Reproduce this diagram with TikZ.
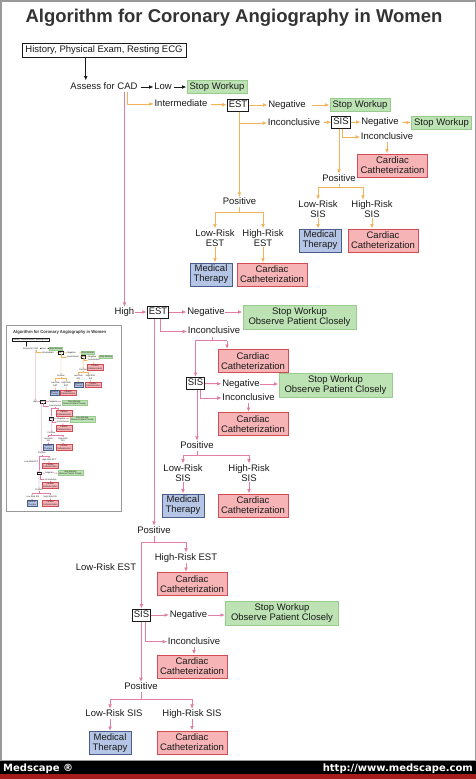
\documentclass[tikz,border=0pt]{standalone}
\usepackage{fontspec}
\setmainfont{Liberation Sans}
\newfontfamily\barfont{DejaVu Sans}
\usetikzlibrary{arrows.meta}
\definecolor{Ink}{HTML}{1A1A1A}
\definecolor{TitleInk}{HTML}{333333}
\definecolor{OrangeLn}{HTML}{F2B45A}
\definecolor{PinkLn}{HTML}{E27EA5}
\definecolor{GoFill}{HTML}{BDE3B4}
\definecolor{GoLine}{HTML}{9ACB8E}
\definecolor{CathFill}{HTML}{F7B4B7}
\definecolor{CathLine}{HTML}{D24B55}
\definecolor{MedFill}{HTML}{B5C5E5}
\definecolor{MedLine}{HTML}{4A5B8C}
\definecolor{Frame}{HTML}{999999}
\definecolor{BarRed}{HTML}{A51C1C}
\newcommand\lblfont{\fontsize{9.5}{10}\selectfont}
\newcommand\titlefont{\fontsize{18.5}{22}\selectfont\bfseries}
\newcommand\lw{1pt}
\tikzset{
 lbl/.style={font=\lblfont, text=Ink, inner sep=0.5pt, text height=6.8pt, text depth=2pt},
 lbl2/.style={font=\lblfont, text=Ink, inner sep=0.5pt, align=center},
 box/.style={font=\lblfont, text=Ink, align=center, line width=\lw, inner xsep=1.5pt, inner ysep=1pt},
 testbox/.style={box, draw=Ink, minimum height=12pt, text height=6.8pt, text depth=2pt},
 stopbox/.style={box, draw=GoLine, fill=GoFill, minimum width=60pt, minimum height=13pt, text height=6.8pt, text depth=2pt},
 watchbox/.style={box, draw=GoLine, fill=GoFill, minimum width=113pt, minimum height=24pt},
 cathbox/.style={box, draw=CathLine, fill=CathFill, minimum width=70pt, minimum height=23pt},
 medbox/.style={box, draw=MedLine, fill=MedFill, minimum width=42pt, minimum height=23pt},
 karrow/.style={-{Latex[length=0pt 4.5,width=0pt 3.8]}, line width=\lw, draw=Ink},
 oarrow/.style={karrow, draw=OrangeLn},
 parrow/.style={karrow, draw=PinkLn},
 oline/.style={line width=\lw, draw=OrangeLn},
 pline/.style={line width=\lw, draw=PinkLn}
}
% the whole chart, used full size and as the small preview
\newcommand\chart{%
\node[font=\titlefont, text=TitleInk, anchor=base] (title) at (234,23) {Algorithm for Coronary Angiography in Women};
\node[testbox, minimum width=164pt, minimum height=14pt] (hist) at (104,50) {History, Physical Exam, Resting ECG};
\foreach \n/\x/\y/\t in {est1/238/105/EST, sis1/341/122/SIS, est2/158/312/EST, sis2/195.5/383.5/SIS, sis3/141.5/615/SIS}
  \node[testbox] (\n) at (\x,\y) {\t};
\foreach \n/\x/\y/\t in {assess/104/87/Assess for CAD, low/163/87/Low, inter/181/104/Intermediate,
  neg1/287/105/Negative, inc1/294/123/Inconclusive, neg2/380/122/Negative, inc2/387/137/Inconclusive,
  pos1/339/179/Positive, posE/239.5/202/Positive, high/124.5/312/High, neg3/206/312/Negative,
  inc3/214/331.5/Inconclusive, neg4/241/384/Negative, inc4/248.5/398/Inconclusive, pos2/197/446/Positive,
  pos3/154/531/Positive, hre2/186/557.7/High-Risk EST, lre2/106/568/Low-Risk EST, neg5/188.5/615/Negative,
  inc5/194/641.7/Inconclusive, pos4/141/687.3/Positive, lrs3/114/714/Low-Risk SIS, hrs3/192/714/High-Risk SIS}
  \node[lbl] (\n) at (\x,\y) {\t};
\foreach \n/\x/\y/\t/\u in {lrs1/318/209/Low-Risk/SIS, hrs1/372/209/High-Risk/SIS, lre1/215/237.7/Low-Risk/EST,
  hre1/263/237.7/High-Risk/EST, lrs2/183/472.7/Low-Risk/SIS, hrs2/249/472.7/High-Risk/SIS}
  \node[lbl2] (\n) at (\x,\y) {\t\\\u};
\foreach \n/\x/\y in {stop1/217/87, stop2/360/105, stop3/441.5/123}
  \node[stopbox] (\n) at (\x,\y) {Stop Workup};
\foreach \n/\x/\y in {stop4/299.5/317, stop5/335.5/385.5, stop6/282/613.5}
  \node[watchbox] (\n) at (\x,\y) {Stop Workup\\Observe Patient Closely};
\foreach \n/\x/\y in {cath1/392.5/165.5, cath2/383/240.5, cath3/272/274.5, cath4/253/361, cath5/253/424,
  cath6/253/505.5, cath7/192/584, cath8/192/666.5, cath9/192/742.5}
  \node[cathbox] (\n) at (\x,\y) {Cardiac\\Catheterization};
\foreach \n/\x/\y in {med1/320/240.5, med2/211/274.5, med3/183/505.5, med4/110/743}
  \node[medbox] (\n) at (\x,\y) {Medical\\Therapy};
% entry
\draw[karrow] (hist.south -| assess.west) ++(16,0) -- ++(0,23);
\draw[karrow, shorten <=3pt] (assess) -- (low);
\draw[karrow, shorten <=2pt] (low) -- (stop1);
% intermediate
\draw[oarrow] (assess.south) ++(23,0) |- (inter);
\draw[oarrow, shorten <=3pt] (inter) -- (est1);
\draw[oarrow] (est1) -- (neg1);
\draw[oarrow, shorten <=6pt] (neg1) -- (stop2);
\draw[oarrow] (est1.south -| posE) |- (inc1);
\draw[oarrow] (est1.south -| posE) -- (posE);
\draw[oarrow, shorten <=3pt] (inc1) -- (sis1);
\draw[oarrow] (sis1) -- (neg2);
\draw[oarrow, shorten <=3pt] (neg2) -- (stop3);
\draw[oarrow] (sis1.south) ++(1.5,0) |- (inc2);
\draw[oarrow] (inc2) -- (inc2 |- cath1.north);
\draw[oarrow] (sis1.south -| pos1) -- (pos1);
\draw[oline] (pos1.south) -- ++(0,3) coordinate (j1) -- ++(24,0) coordinate (j1r);
\draw[oarrow] (j1) -| (lrs1);
\draw[oarrow] (j1r) -- (j1r |- hrs1.north);
\draw[oarrow] (lrs1) -- (lrs1 |- med1.north);
\draw[oarrow] (hrs1) -- (hrs1 |- cath2.north);
\draw[oline] (posE.south) -- ++(0,5) coordinate (j2);
\draw[oarrow] (j2) -| (lre1);
\draw[oarrow] (j2) -| (hre1);
\draw[oarrow] (lre1) -- (lre1 |- med2.north);
\draw[oarrow] (hre1) -- (hre1 |- cath3.north);
% high
\draw[parrow] (assess.south -| high) -- (high);
\draw[parrow] (high) -- (est2);
\draw[parrow] (est2) -- (neg3);
\draw[parrow] (neg3) -- (neg3 -| stop4.west);
\draw[parrow] (est2.south) ++(2,0) |- (inc3);
\draw[parrow] (est2.south -| pos3) -- (pos3);
\draw[pline] (inc3.south) ++(-2,0) -- ++(0,4) coordinate (j3) -- ++(15,0) coordinate (j3r);
\draw[parrow] (j3) -| (sis2);
\draw[parrow] (j3r) -- (j3r |- cath4.north);
\draw[parrow] (sis2) -- (neg4);
\draw[parrow] (neg4) -- (neg4 -| stop5.west);
\draw[parrow] (sis2.south) ++(5,0) |- (inc4);
\draw[parrow] (inc4) -- (inc4 |- cath5.north);
\draw[parrow] (sis2.south -| pos2) -- (pos2);
\draw[pline] (pos2.south) -- ++(0,4) coordinate (j4);
\draw[parrow] (j4) -| (lrs2);
\draw[parrow] (j4) -| (hrs2);
\draw[parrow] (lrs2) -- (lrs2 |- med3.north);
\draw[parrow] (hrs2) -- (hrs2 |- cath6.north);
\draw[pline] (pos3.south) -- ++(0,6) coordinate (j5);
\draw[parrow] (j5) -| (hre2);
\draw[parrow] (j5) -| (sis3);
\draw[parrow] (hre2) -- (hre2 |- cath7.north);
\draw[parrow] (sis3) -- (neg5);
\draw[parrow] (neg5) -- (neg5 -| stop6.west);
\draw[parrow] (sis3.south) ++(4,0) |- (inc5);
\draw[parrow] (inc5) -- (inc5 |- cath8.north);
\draw[parrow] (sis3.south -| pos4) -- (pos4);
\draw[pline] (pos4.south) -- ++(0,7) coordinate (j6);
\draw[parrow] (j6) -| (lrs3.north -| med4);
\draw[parrow] (j6) -| (hrs3);
\draw[parrow] (lrs3.south -| med4) -- (med4);
\draw[parrow] (hrs3) -- (hrs3 |- cath9.north);
}

\begin{document}
\begin{tikzpicture}[x=1pt,y=-1pt]
\useasboundingbox (0,0) rectangle (476,779);
\fill[white] (0,0) rectangle (476,779);
\chart
% preview
\begin{scope}[shift={(7.5,328)}, xscale=0.223, yscale=0.236, transform shape, name prefix=th-]
\renewcommand\lw{0.3pt}
\chart
\end{scope}
\draw[Frame, line width=1pt] (6.5,325) rectangle (121.5,511);
\draw[Frame, line width=1.5pt] (0.75,0.75) rectangle (475.25,760.5);
% footer
\fill[black] (0,761) rectangle (476,774);
\fill[BarRed] (0,774) rectangle (476,779);
\node[font={\barfont\fontsize{10}{12}\selectfont\bfseries}, text=white, anchor=base west, inner sep=0pt] (brand) at (3,771.5) {Medscape ®};
\node[font={\barfont\fontsize{10}{12}\selectfont\bfseries}, text=white, anchor=base east, inner sep=0pt] (site) at (473,771.5) {http://www.medscape.com};
\end{tikzpicture}
\end{document}
